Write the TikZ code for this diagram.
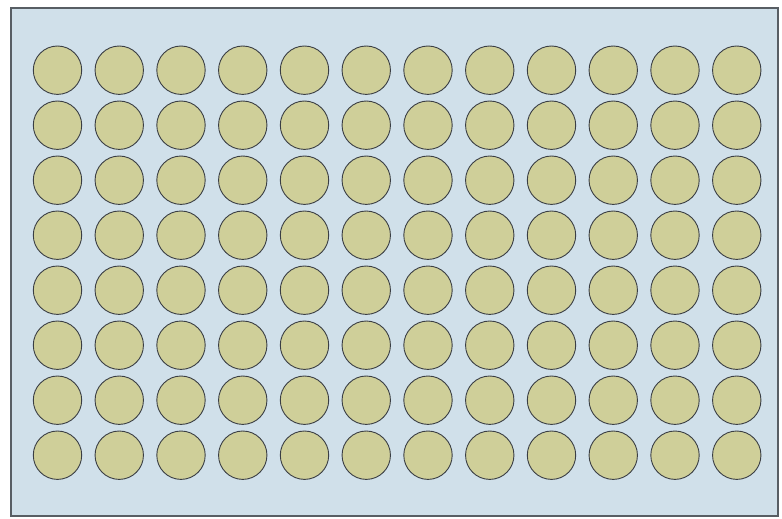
\documentclass[tikz,border=0pt]{standalone}
\definecolor{platefill}{RGB}{208,224,234}
\definecolor{wellfill}{RGB}{207,207,153}
\definecolor{welledge}{RGB}{58,62,68}
\definecolor{plateedge}{RGB}{88,94,100}
\begin{document}
\begin{tikzpicture}[
  x=1pt, y=-1pt,
  plate/.style = {draw=plateedge, fill=platefill, line width=1.2pt},
  well/.style  = {draw=welledge, fill=wellfill, circle, line width=0.9pt,
                  minimum size=48.4pt, inner sep=0pt},
]
\useasboundingbox (0,0) rectangle (782,519);

% --- Plate ---------------------------------------------------------------
\draw[plate] (11,8) rectangle (778,516);

% --- 8 x 12 wells ---------------------------------------------------------
\foreach \r in {0,...,7}{
  \foreach \c in {0,...,11}{
    \node[well] (well-\r-\c) at ({57.5+61.75*\c},{70.2+55*\r}) {};
  }
}

\end{tikzpicture}
\end{document}
